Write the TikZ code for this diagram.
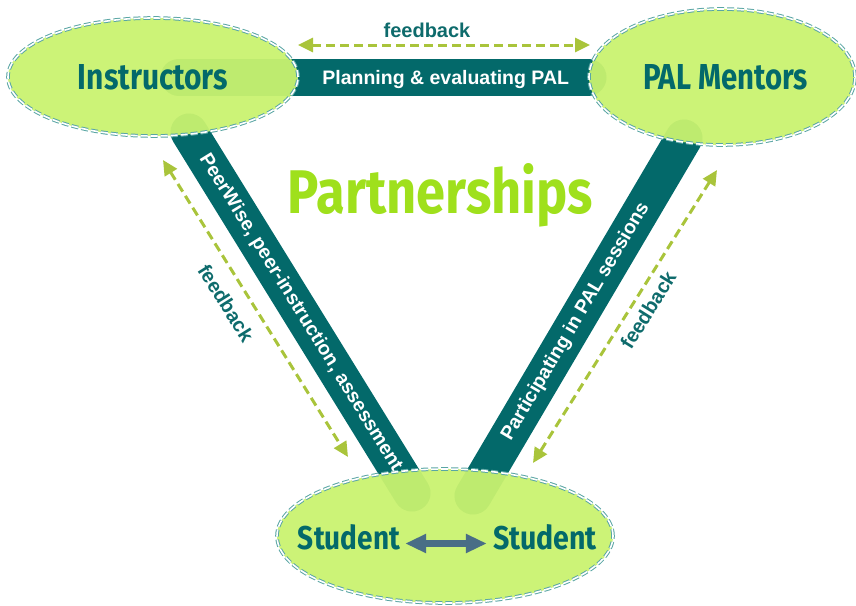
\documentclass[tikz,border=0pt]{standalone}
\usepackage{fontspec}
\usepackage{graphicx}
\setmainfont{Liberation Sans}
\newfontfamily\comicfont{Fira Sans}
\usetikzlibrary{shapes.geometric,arrows.meta}
\definecolor{teal1}{HTML}{03696A}
\definecolor{lime1}{HTML}{C9F270}
\definecolor{bord}{HTML}{5AA6A4}
\definecolor{fbgreen}{HTML}{A9C43B}
\definecolor{fbtxt}{HTML}{0E6B6C}
\definecolor{partgreen}{HTML}{9FE01C}
\definecolor{sarrow}{HTML}{496E86}
\begin{document}
\begin{tikzpicture}[x=1pt,y=-1pt,
  blob/.style={ellipse, fill=lime1, fill opacity=0.95, inner sep=0pt},
  rimout/.style={draw=bord, line width=3.6pt, dash pattern=on 7pt off 3pt},
  rimin/.style={draw=white, line width=1.6pt, dash pattern=on 7pt off 3pt},
  band/.style={line width=37pt, line cap=round, draw=teal1},
  bandtext/.style={text=white, font=\fontsize{19.5}{22}\selectfont\bfseries, inner sep=0pt},
  fbarrow/.style={draw=fbgreen, line width=3pt, dash pattern=on 9pt off 5pt,
    {Triangle[length=15pt,width=14pt]}-{Triangle[length=15pt,width=14pt]}},
  fblabel/.style={text=fbtxt, font=\fontsize{20}{24}\selectfont\bfseries, inner sep=0pt},
  bigname/.style={text=teal1, font=\comicfont\bfseries, inner sep=0pt},
]
\useasboundingbox (0,0) rectangle (856,605);

% band end points
\coordinate (tb1) at (179,77);
\coordinate (tb2) at (588,77);
\coordinate (lb1) at (189,132);
\coordinate (lb2) at (412,493);
\coordinate (rb1) at (684,138);
\coordinate (rb2) at (473,496);

% bands
\draw[band] (tb1) -- (tb2);
\draw[band] (lb1) -- (lb2);
\draw[band] (rb1) -- (rb2);

% ellipses
\node[blob, minimum width=290pt, minimum height=118pt] (instr) at (153,77) {};
\node[blob, minimum width=266pt, minimum height=136pt] (pal) at (722,77) {};
\node[blob, minimum width=336pt, minimum height=134pt] (stud) at (445,536) {};
\foreach \n/\rx/\ry in {instr/145/59, pal/133/68, stud/168/67}{
  \draw[rimout] (\n.center) ellipse [x radius=\rx pt, y radius=\ry pt];
  \draw[rimin] (\n.center) ellipse [x radius=\rx pt, y radius=\ry pt];
}

% band texts
\path (tb1) -- (tb2) node[bandtext, pos=0.652, yshift=-2pt] (ttop) {Planning \& evaluating PAL};
\path (lb1) -- (lb2) node[bandtext, sloped, pos=0.5] (tleft) {PeerWise, peer-instruction, assessment};
\path (rb2) -- (rb1) node[bandtext, sloped, pos=0.487] (tright) {Participating in PAL sessions};

% names
\node[bigname] (tInstr) at (153,77.5) {\resizebox{150pt}{25pt}{Instructors}};
\node[bigname] (tPAL) at (725.5,77.5) {\resizebox{165pt}{25pt}{PAL Mentors}};
\node[bigname] (tS1) at (349,537.5) {\resizebox{102pt}{25pt}{Student}};
\node[bigname] (tS2) at (545,537.5) {\resizebox{104pt}{25pt}{Student}};
\node[text=partgreen, anchor=base, inner sep=0pt] (part) at (440.5,213)
  {\resizebox{305pt}{50pt}{\comicfont\bfseries Partnerships}};

% student arrow
\draw[sarrow, line width=7pt, {Triangle[length=21pt,width=18pt]}-{Triangle[length=21pt,width=18pt]}]
  ([xshift=5pt,yshift=-6pt]tS1.east) -- ([xshift=-6pt,yshift=-6pt]tS2.west);

% feedback arrows
\coordinate (ft1) at (298,45);
\coordinate (ft2) at (590,45);
\coordinate (fl1) at (163,160);
\coordinate (fl2) at (348,457);
\coordinate (fr1) at (717,170);
\coordinate (fr2) at (533,463);
\draw[fbarrow] (ft1) -- (ft2);
\draw[fbarrow] (fl1) -- (fl2);
\draw[fbarrow] (fr1) -- (fr2);

\node[fblabel] (fbt) at (427,30) {feedback};
\node[fblabel, rotate=-58] (fbl) at (226,303) {feedback};
\node[fblabel, rotate=58] (fbr) at (648,310) {feedback};
\end{tikzpicture}
\end{document}
